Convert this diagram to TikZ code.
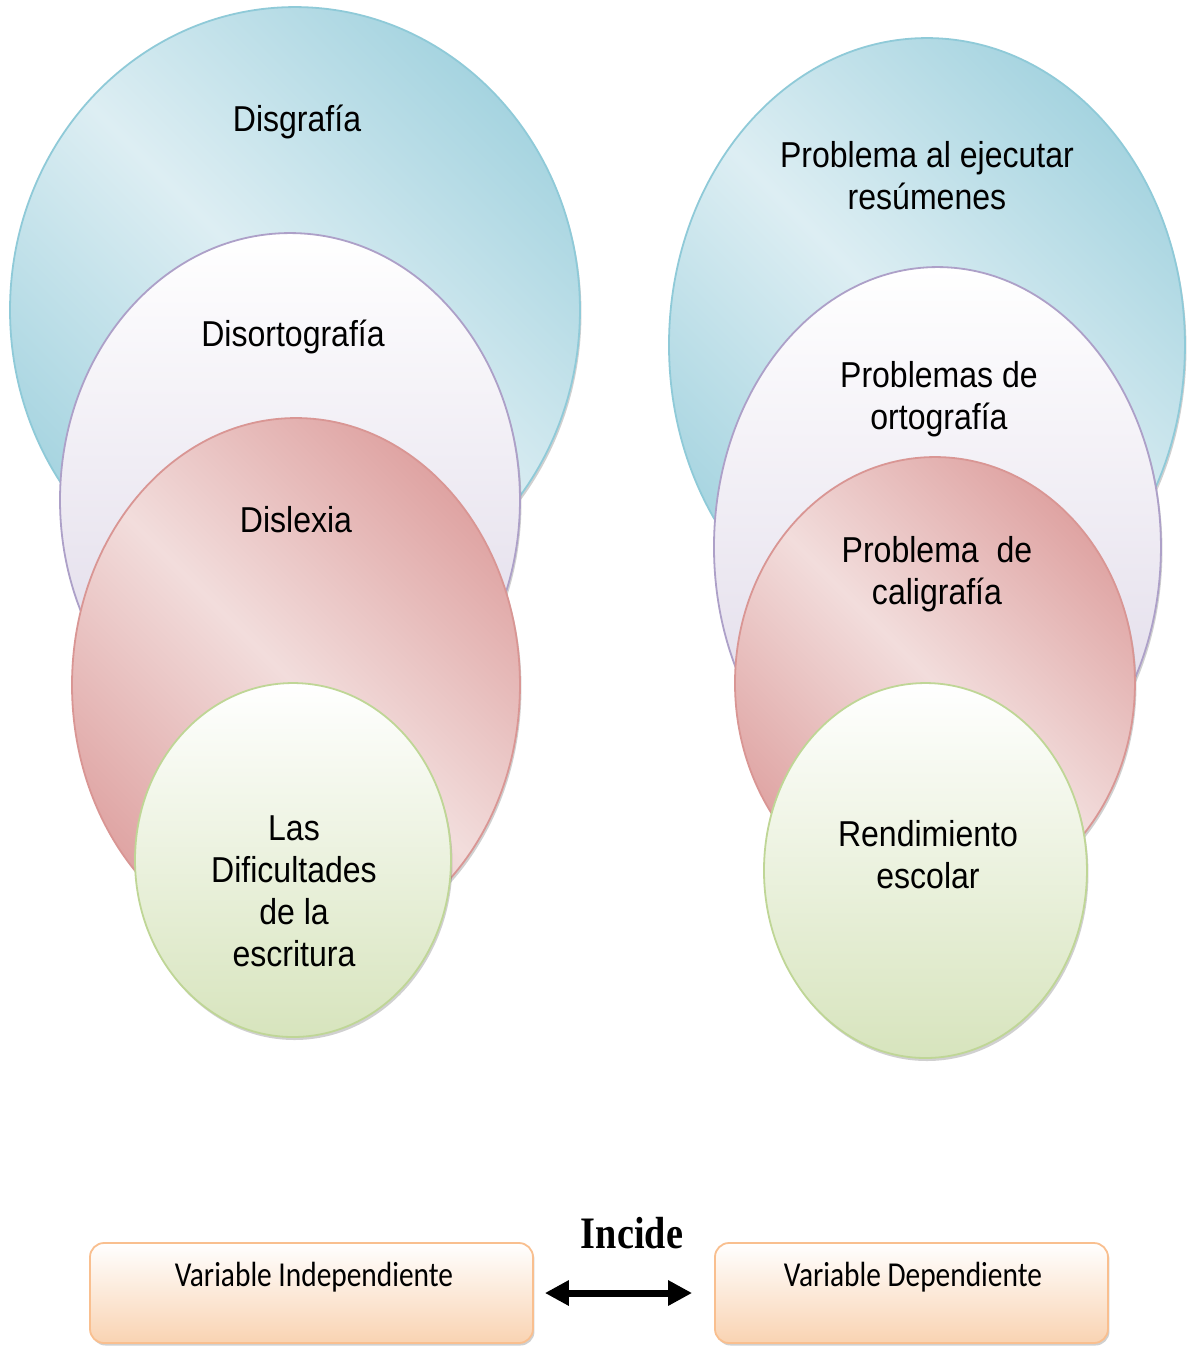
\documentclass[tikz,border=0pt]{standalone}
\usepackage{fontspec}
\setmainfont[FakeStretch=0.89]{Liberation Sans}
\newfontfamily\boxfont[FakeStretch=0.84]{Carlito}
\newfontfamily\incfont[FakeStretch=0.85]{Liberation Serif}
\usetikzlibrary{shapes.geometric,shadows,arrows.meta}
\definecolor{bB}{HTML}{8FCAD8}
\definecolor{bD}{HTML}{A6D4E0}
\definecolor{bL}{HTML}{DDEEF3}
\definecolor{pB}{HTML}{ADA0C8}
\definecolor{pD}{HTML}{DCD5E6}
\definecolor{rB}{HTML}{D99694}
\definecolor{rD}{HTML}{DFA4A3}
\definecolor{rL}{HTML}{F2DDDC}
\definecolor{gB}{HTML}{BFD696}
\definecolor{gD}{HTML}{D7E4BD}
\definecolor{oB}{HTML}{F9BF8F}
\definecolor{oD}{HTML}{F9D3B2}
\begin{document}
% 1 unit = 0.1pt (one pixel of the reference)
\begin{tikzpicture}[x=0.1pt,y=-0.1pt,
  ell/.style={ellipse, inner sep=0pt, line width=0.18pt,
    drop shadow={shadow xshift=0.15pt, shadow yshift=-0.3pt, opacity=0.3, fill=black!60}},
  blueell/.style={ell, draw=bB, left color=bD, right color=bD, middle color=bL, shading angle=135},
  purpell/.style={ell, draw=pB, top color=white, bottom color=pD},
  redell/.style={ell, draw=rB, left color=rD, right color=rD, middle color=rL, shading angle=135},
  greenell/.style={ell, draw=gB, top color=white, bottom color=gD},
  lbl/.style={align=center, inner sep=0pt, font=\fontsize{3.6}{4.2}\selectfont},
  varbox/.style={rounded corners=1.4pt, line width=0.18pt, draw=oB, top color=white, bottom color=oD,
    drop shadow={shadow xshift=0.15pt, shadow yshift=-0.25pt, opacity=0.3, fill=black!60},
    minimum height=10pt, inner sep=0pt},
  boxlbl/.style={inner sep=0pt, font=\boxfont\fontsize{3.5}{4}\selectfont}
]
\fill[white] (0,0) rectangle (1194,1346);
\path[use as bounding box] (0,0) rectangle (1194,1346);

% left stack
\node[blueell, minimum width=57pt, minimum height=60.6pt] (dgraf) at (295,310) {};
\node[purpell, minimum width=46pt, minimum height=53.4pt] (dort) at (290,500) {};
\node[redell, minimum width=44.8pt, minimum height=53.4pt] (dlex) at (296,685) {};
\node[greenell, minimum width=31.6pt, minimum height=35.4pt] (dif) at (293,860) {};

\node[lbl, anchor=base] (tdgraf) at (297,131) {Disgrafía};
\node[lbl, anchor=base] (tdort) at (293,346) {Disortografía};
\node[lbl, anchor=base] (tdlex) at (296,532) {Dislexia};
\node[lbl, anchor=north] (tdif) at (294,814) {Las\\Dificultades\\de la\\escritura};

% right stack
\node[blueell, minimum width=51.6pt, minimum height=61.4pt] (pres) at (927,345) {};
\node[purpell, minimum width=44.7pt, minimum height=56pt] (port) at (937.5,547) {};
\node[redell, minimum width=40pt, minimum height=45.2pt] (pcal) at (935,683) {};
\node[greenell, minimum width=32.3pt, minimum height=37.5pt] (rend) at (925.5,870.5) {};

\node[lbl, anchor=north] (tpres) at (927,139) {Problema al ejecutar\\resúmenes};
\node[lbl, anchor=north] (tport) at (939,359) {Problemas de\\ortografía};
\node[lbl, anchor=north] (tpcal) at (937,534) {Problema\ \ de\\caligrafía};
\node[lbl, anchor=north] (trend) at (928,818) {Rendimiento\\escolar};

% bottom
\node[varbox, minimum width=44.3pt] (vi) at (311.5,1293) {};
\node[varbox, minimum width=39.3pt] (vd) at (911.5,1293) {};
\node[boxlbl, anchor=base] (tvi) at (314,1286) {Variable Independiente};
\node[boxlbl, anchor=base] (tvd) at (913,1286) {Variable Dependiente};
\node[inner sep=0pt, anchor=base, font=\incfont\bfseries\fontsize{4.5}{5}\selectfont] (inc) at (632,1248) {Incide};
\draw[line width=0.7pt, {Triangle[length=2.4pt,width=2.4pt]}-{Triangle[length=2.4pt,width=2.4pt]},
  shorten <=1.1pt, shorten >=2.2pt] (vi.east) -- (vd.west);
\end{tikzpicture}
\end{document}
